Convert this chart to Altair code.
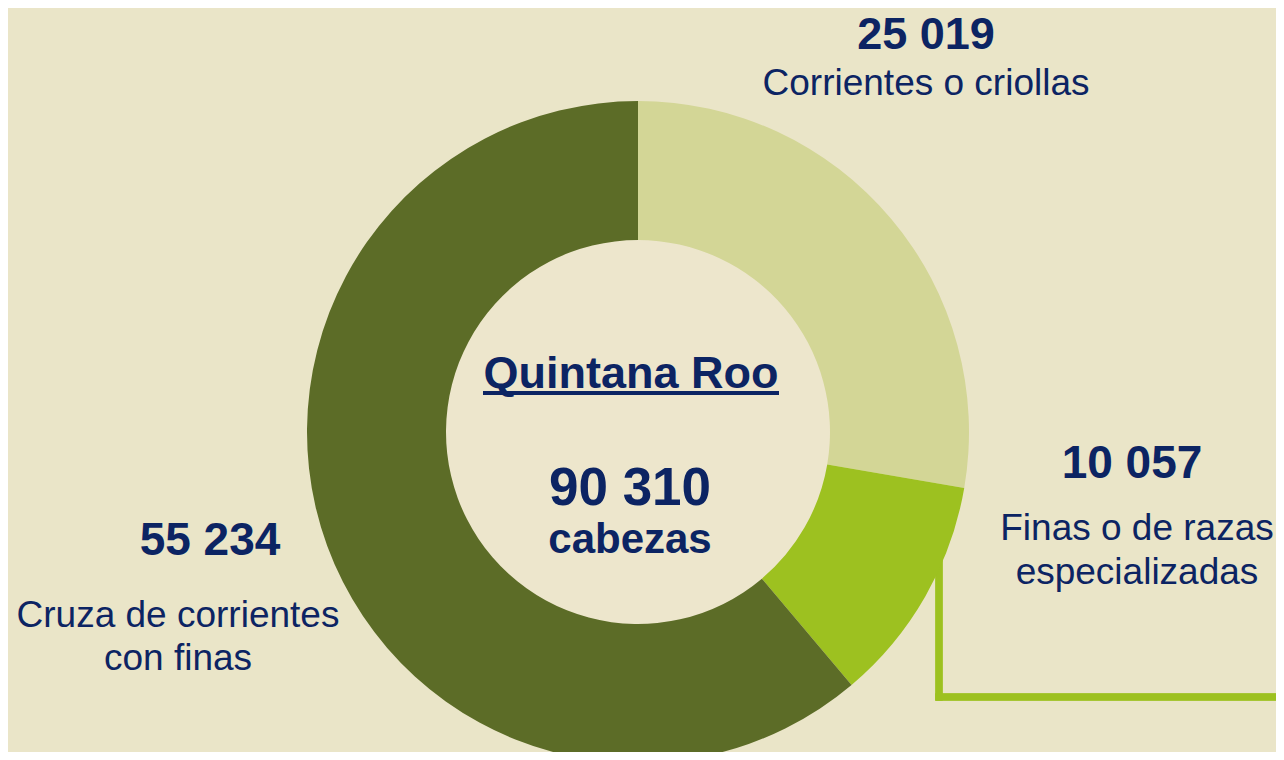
import altair as alt
import pandas as pd

categories = ["Corrientes o criollas", "Finas o de razas especializadas", "Cruza de corrientes con finas"]
values = [25019, 10057, 55234]
order = [0, 1, 2]
colors = ["#D3D696", "#9DC120", "#5C6C27"]
region = "Quintana Roo"
unit = "cabezas"

def fmt(v):
    return f"{v:,}".replace(",", " ")

df = pd.DataFrame({"cat": categories, "val": values, "ord": order})

BG = "#EAE5C8"
HOLE = "#EDE6CC"
NAVY = "#0C2463"
FONT = "Liberation Sans"
OFF = 8  # page margin
CX, CY = 638 - OFF, 432 - OFF
R_OUT, R_IN = 331, 192

base = alt.Chart(df)

# connector line for the small slice
conn_v = base.mark_rule(color="#9DC120", strokeWidth=7, strokeCap="square").encode(
    x=alt.value(939 - OFF), y=alt.value(540 - OFF), y2=alt.value(697 - OFF))
conn_h = base.mark_rule(color="#9DC120", strokeWidth=7, strokeCap="square").encode(
    x=alt.value(939 - OFF), x2=alt.value(1300), y=alt.value(697 - OFF))

donut = base.mark_arc(outerRadius=R_OUT, innerRadius=R_IN, stroke=None).encode(
    theta=alt.Theta("val:Q", stack=True),
    order=alt.Order("ord:Q"),
    color=alt.Color("cat:N", scale=alt.Scale(domain=categories, range=colors), legend=None),
    x=alt.value(CX), y=alt.value(CY),
)

hole = alt.Chart(pd.DataFrame({"a": [1]})).mark_point(
    shape="circle", filled=True, size=(2 * R_IN) ** 2, color=HOLE, opacity=1, strokeWidth=0
).encode(x=alt.value(CX), y=alt.value(CY))

def txt(s, x, y, size, bold=False, lh=None):
    kw = dict(text=s, font=FONT, fontSize=size, fontWeight="bold" if bold else "normal",
              color=NAVY, align="center", baseline="alphabetic")
    if lh:
        kw["lineHeight"] = lh
    return alt.Chart(pd.DataFrame({"a": [1]})).mark_text(**kw).encode(
        x=alt.value(x - OFF), y=alt.value(y - OFF))

total = sum(values)
layers = [
    conn_v, conn_h, hole, donut,
    txt(region, 631, 388, 45, True),
    txt(fmt(total), 630, 505, 53, True),
    txt(unit, 630, 553, 42, True),
    txt(fmt(values[0]), 926, 49, 45, True),
    txt("Corrientes o criollas", 926, 95, 37),
    txt(fmt(values[1]), 1132, 478, 46, True),
    txt(["Finas o de razas", "especializadas"], 1137, 540, 37, False, 44),
    txt(fmt(values[2]), 210, 555, 46, True),
    txt(["Cruza de corrientes", "con finas"], 178, 627, 37, False, 43),
]

underline = alt.Chart(pd.DataFrame({"a": [1]})).mark_rule(color=NAVY, strokeWidth=4).encode(
    x=alt.value(483 - OFF), x2=alt.value(779 - OFF), y=alt.value(393 - OFF))
layers.append(underline)

chart = alt.layer(*layers).properties(
    width=1268, height=744, background=BG, padding=0,
    autosize=alt.AutoSizeParams(type="none"),
).configure_view(stroke=None)

chart.save("out.html", embed_options={"renderer": "svg", "actions": False})
